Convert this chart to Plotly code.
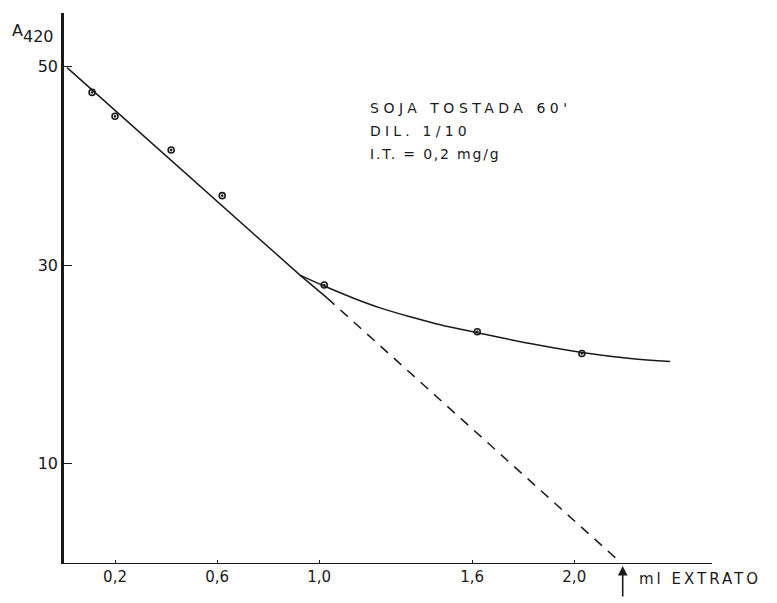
import plotly.graph_objects as go

# Measured points: A420 versus volume of extract (ml)
ml_extrato = [0.11, 0.20, 0.42, 0.62, 1.02, 1.62, 2.03]
a420 = [47.4, 45.0, 41.6, 37.0, 28.0, 23.3, 21.1]

# Initial straight-line portion (solid) and its extrapolation (dashed)
reta_x = [0.012, 0.925, 1.031]
reta_y = [49.9, 29.0, 26.7]
extrap_x = [1.031, 2.184]
extrap_y = [26.7, 0.0]

# Curved portion drawn through the later points
curva_x = [0.925, 1.02, 1.133, 1.239, 1.357, 1.475, 1.62, 1.827, 2.03, 2.22, 2.376]
curva_y = [29.0, 27.9, 26.7, 25.7, 24.8, 24.0, 23.2, 22.1, 21.2, 20.6, 20.3]

# Axis ticks
x_ticks = [0.2, 0.6, 1.0, 1.6, 2.0]
x_ticktext = ["0,2", "0,6", "1,0", "1,6", "2,0"]
y_ticks = [10, 30, 50]
y_ticktext = ["10", "30", "50"]

# End point of the extrapolated line on the volume axis
x_final = 2.19

INK = "#1a1a1a"
FONT = "DejaVu Sans"

fig = go.Figure()

fig.add_trace(go.Scatter(
    x=reta_x, y=reta_y, mode="lines",
    line=dict(color=INK, width=1.5), hoverinfo="skip", showlegend=False))
fig.add_trace(go.Scatter(
    x=extrap_x, y=extrap_y, mode="lines",
    line=dict(color=INK, width=1.5, dash="10px,8px"), hoverinfo="skip", showlegend=False))
fig.add_trace(go.Scatter(
    x=curva_x, y=curva_y, mode="lines",
    line=dict(color=INK, width=1.5, shape="spline", smoothing=1.0),
    hoverinfo="skip", showlegend=False))
fig.add_trace(go.Scatter(
    x=ml_extrato, y=a420, mode="markers",
    marker=dict(symbol="circle-open-dot", size=6, color=INK, line=dict(width=1.6, color=INK)),
    showlegend=False))

fig.update_xaxes(
    range=[0, 2.54], tickvals=x_ticks, ticktext=x_ticktext,
    showgrid=False, zeroline=False, showline=True, linecolor=INK, linewidth=1,
    ticks="inside", ticklen=3, tickcolor=INK, tickwidth=1,
    tickfont=dict(family=FONT, size=15, color=INK))
fig.update_yaxes(
    range=[0, 55.4], tickvals=y_ticks, ticktext=y_ticktext,
    showgrid=False, zeroline=False, showline=True, linecolor=INK, linewidth=2.5,
    ticks="inside", ticklen=8, tickcolor=INK, tickwidth=1,
    tickfont=dict(family=FONT, size=16, color=INK))

label_font = dict(family=FONT, size=14, color=INK)
annotations = [
    # y-axis label A420
    dict(text="A", x=-0.072, y=1.0, xref="paper", yref="paper",
         xanchor="center", yanchor="middle", yshift=-17, showarrow=False,
         font=dict(family=FONT, size=16, color=INK)),
    dict(text="420", x=-0.040, y=1.0, xref="paper", yref="paper",
         xanchor="center", yanchor="middle", yshift=-23, showarrow=False,
         font=dict(family=FONT, size=16, color=INK)),
    # sample description
    dict(text="SOJA TOSTADA 60'", x=0.469, y=1.0, xref="paper", yref="paper",
         xanchor="left", align="left", yanchor="middle", yshift=-95, showarrow=False,
         font=label_font),
    dict(text="DIL. 1/10", x=0.469, y=1.0, xref="paper", yref="paper",
         xanchor="left", align="left", yanchor="middle", yshift=-118, showarrow=False,
         font=label_font),
    dict(text="I.T. = 0,2 mg/g", x=0.469, y=1.0, xref="paper", yref="paper",
         xanchor="left", align="left", yanchor="middle", yshift=-141, showarrow=False,
         font=label_font),
    # x-axis label
    dict(text="ml EXTRATO", x=0.884, y=0, xref="paper", yref="paper",
         xanchor="left", align="left", yanchor="middle", yshift=-16, showarrow=False,
         font=dict(family=FONT, size=15, color=INK)),
    # arrow marking the extrapolated end point
    dict(text="", x=x_final, y=0, xref="x", yref="paper", yshift=-3,
         showarrow=True, arrowhead=2, arrowsize=1.2, arrowwidth=1.6, arrowcolor=INK,
         ax=0, ay=32),
]
fig.update_layout(
    width=777, height=603,
    margin=dict(l=64, r=65, t=13, b=40),
    plot_bgcolor="white", paper_bgcolor="white",
    annotations=annotations,
    showlegend=False,
)

# wide, hand-lettered spacing for the labels
spacing_css = (
    '.annotation[data-index="2"] text{letter-spacing:4.5px}'
    '.annotation[data-index="3"] text{letter-spacing:4.2px}'
    '.annotation[data-index="4"] text{letter-spacing:1.8px}'
    '.annotation[data-index="5"] text{letter-spacing:3px}'
)
post_js = (
    "var s=document.createElement('style');"
    "s.textContent='" + spacing_css.replace("'", "\\'") + "';"
    "document.head.appendChild(s);"
)

fig.write_html("out.html", post_script=post_js)
